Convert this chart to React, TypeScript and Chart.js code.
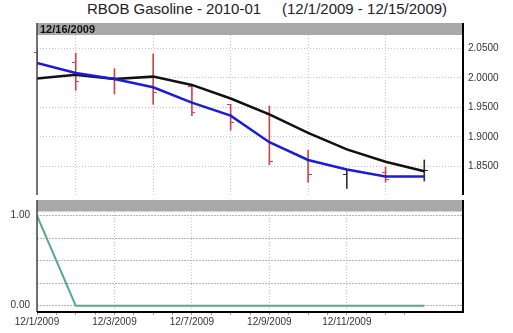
import React, { useEffect, useRef } from 'react';
import { Chart, registerables } from 'chart.js';
Chart.register(...registerables);

const chartTitle = 'RBOB Gasoline - 2010-01     (12/1/2009 - 12/15/2009)';
const headerDate = '12/16/2009';
const days = ['12/1/2009', '12/2/2009', '12/3/2009', '12/4/2009', '12/7/2009', '12/8/2009', '12/9/2009', '12/10/2009', '12/11/2009', '12/14/2009', '12/15/2009'];
const labeledDays = ['12/1/2009', '12/3/2009', '12/7/2009', '12/9/2009', '12/11/2009'];
const blueValues = [2.025, 2.008, 1.998, 1.984, 1.958, 1.936, 1.891, 1.861, 1.845, 1.833, 1.833];
const blackValues = [1.999, 2.005, 1.998, 2.002, 1.988, 1.965, 1.938, 1.907, 1.879, 1.858, 1.842];
const openValues = [2.043, 2.0265, 2.0, 2.002, 1.986, 1.9547, 1.938, 1.862, 1.836, 1.84, 1.833];
const highValues = [2.046, 2.0418, 2.0155, 2.0401, 1.988, 1.9552, 1.9525, 1.8774, 1.8441, 1.8495, 1.861];
const lowValues = [2.018, 1.9788, 1.9728, 1.9552, 1.9361, 1.9115, 1.8528, 1.8237, 1.8129, 1.8237, 1.8254];
const closeValues = [2.024, 1.9936, 1.997, 1.9756, 1.9407, 1.9243, 1.8582, 1.836, 1.8425, 1.8285, 1.843];
const lowerValues = [1, 0, 0, 0, 0, 0, 0, 0, 0, 0, 0];
const upperTickValues = [1.85, 1.9, 1.95, 2.0, 2.05];
const lowerTickValues = [0, 0.25, 0.5, 0.75, 1];
const lowerTickLabels = ['0.00', '', '', '', '1.00'];

const FONT = "'Liberation Sans', Arial, sans-serif";
const RED = '#c8474b';
const DARK = '#333333';
const GRAY_BAR = '#a8a8aa';

function makeTick(color: string, side: 'left' | 'right') {
  const c = document.createElement('canvas');
  c.width = 7;
  c.height = 1;
  const g = c.getContext('2d')!;
  g.fillStyle = color;
  g.fillRect(side === 'left' ? 0 : 4, 0, 3, 1);
  return c;
}

export default function App() {
  const topRef = useRef<HTMLCanvasElement>(null);
  const botRef = useRef<HTMLCanvasElement>(null);

  useEffect(() => {
    document.body.style.margin = '0';
    Chart.defaults.font.family = FONT;
    const n = days.length;
    const isUp = days.map((_, i) => closeValues[i] >= openValues[i]);
    const barColors = isUp.map((u) => (u ? DARK : RED));
    const openImgs = { red: makeTick(RED, 'left'), dark: makeTick(DARK, 'left') };
    const closeImgs = { red: makeTick(RED, 'right'), dark: makeTick(DARK, 'right') };
    const labeledIdx = labeledDays.map((d) => days.indexOf(d));

    const frameTop = {
      id: 'frameTop',
      afterDatasetsDraw(chart: any) {
        const { ctx, chartArea: a } = chart;
        ctx.save();
        ctx.fillStyle = GRAY_BAR;
        ctx.fillRect(a.left, a.top, a.right - a.left, 12);
        ctx.fillStyle = '#111';
        ctx.font = `bold 11px ${FONT}`;
        ctx.textBaseline = 'middle';
        ctx.textAlign = 'left';
        ctx.fillText(headerDate, a.left + 3, a.top + 6.5);
        ctx.strokeStyle = '#444';
        ctx.lineWidth = 1.5;
        ctx.beginPath();
        ctx.moveTo(a.left, a.top);
        ctx.lineTo(a.left, a.bottom);
        ctx.stroke();
        ctx.strokeStyle = '#000';
        ctx.lineWidth = 2;
        ctx.beginPath();
        ctx.moveTo(a.right, a.top);
        ctx.lineTo(a.right, a.bottom);
        ctx.stroke();
        ctx.restore();
      },
    };

    const frameBot = {
      id: 'frameBot',
      afterDatasetsDraw(chart: any) {
        const { ctx, chartArea: a } = chart;
        ctx.save();
        ctx.fillStyle = GRAY_BAR;
        ctx.fillRect(a.left, a.top, a.right - a.left, 11.5);
        ctx.strokeStyle = '#444';
        ctx.lineWidth = 1.5;
        ctx.beginPath();
        ctx.moveTo(a.left, a.top);
        ctx.lineTo(a.left, a.bottom);
        ctx.stroke();
        ctx.strokeStyle = '#000';
        ctx.lineWidth = 2;
        ctx.beginPath();
        ctx.moveTo(a.right, a.top);
        ctx.lineTo(a.right, a.bottom);
        ctx.moveTo(a.left, a.bottom);
        ctx.lineTo(a.right + 1, a.bottom);
        ctx.stroke();
        ctx.restore();
      },
    };

    const noPad = (s: any) => {
      s.paddingTop = 0;
      s.paddingBottom = 0;
    };

    const top = new Chart(topRef.current!, {
      type: 'line',
      data: {
        datasets: [
          {
            label: 'blue',
            data: blueValues.map((v, i) => ({ x: i, y: v })),
            borderColor: '#1c1cd4',
            borderWidth: 2.5,
            pointRadius: 0,
          },
          {
            label: 'black',
            data: blackValues.map((v, i) => ({ x: i, y: v })),
            borderColor: '#111111',
            borderWidth: 2.5,
            pointRadius: 0,
          },
          {
            type: 'bar',
            label: 'hl',
            data: days.map((_, i) => ({ x: i, y: [lowValues[i], highValues[i]] })),
            backgroundColor: barColors,
            barThickness: 1,
            borderWidth: 0,
          } as any,
          {
            label: 'open',
            data: openValues.map((v, i) => ({ x: i, y: v })),
            showLine: false,
            pointRadius: 3,
            pointStyle: isUp.map((u) => (u ? openImgs.dark : openImgs.red)) as any,
            clip: false as any,
          },
          {
            label: 'close',
            data: closeValues.map((v, i) => ({ x: i, y: v })),
            showLine: false,
            pointRadius: 3,
            pointStyle: isUp.map((u) => (u ? closeImgs.dark : closeImgs.red)) as any,
            clip: false as any,
          },
        ],
      },
      options: {
        responsive: false,
        animation: false,
        devicePixelRatio: 1,
        layout: { padding: { left: 37, top: 23, right: 0, bottom: 0 } },
        plugins: { legend: { display: false }, tooltip: { enabled: false }, title: { display: false } },
        scales: {
          x: {
            type: 'linear',
            min: 0,
            max: n,
            offset: false,
            afterBuildTicks: (s: any) => {
              s.ticks = labeledIdx.map((v) => ({ value: v }));
            },
            ticks: { display: false },
            grid: { color: '#c4c4c4', drawTicks: false },
            border: { display: false, dash: [1, 2] },
            afterFit: (s: any) => {
              s.height = 0;
              s.paddingLeft = 0;
              s.paddingRight = 0;
            },
          },
          y: {
            type: 'linear',
            position: 'right',
            min: 1.8018,
            max: 2.0927,
            afterBuildTicks: (s: any) => {
              s.ticks = upperTickValues.map((v) => ({ value: v }));
            },
            ticks: {
              callback: (v: any) => Number(v).toFixed(4),
              font: { size: 10, family: FONT },
              color: '#333',
              padding: 5,
            },
            grid: { color: '#c4c4c4', drawTicks: false },
            border: { display: false, dash: [1, 2] },
            afterFit: (s: any) => {
              s.width = 50;
              noPad(s);
            },
          },
        },
      } as any,
      plugins: [frameTop],
    });

    const bot = new Chart(botRef.current!, {
      type: 'line',
      data: {
        datasets: [
          {
            label: 'lower',
            data: lowerValues.map((v, i) => ({ x: i, y: v })),
            borderColor: '#5aa88a',
            borderWidth: 2,
            pointRadius: 0,
          },
        ],
      },
      options: {
        responsive: false,
        animation: false,
        devicePixelRatio: 1,
        layout: { padding: { left: 0, top: 0, right: 50, bottom: 0 } },
        plugins: { legend: { display: false }, tooltip: { enabled: false } },
        scales: {
          x: {
            type: 'linear',
            min: 0,
            max: n,
            offset: false,
            afterBuildTicks: (s: any) => {
              const t: any[] = [];
              for (let k = 0; k <= 2 * n; k++) t.push({ value: k / 2 });
              s.ticks = t;
            },
            ticks: {
              autoSkip: false,
              maxRotation: 0,
              padding: 1,
              font: { size: 10, family: FONT },
              color: '#333',
              callback: (v: any) => {
                const idx = labeledIdx.indexOf(Number(v));
                return idx >= 0 ? labeledDays[idx] : '';
              },
            },
            grid: {
              color: (c: any) => (c.tick && labeledIdx.indexOf(c.tick.value) >= 0 ? '#c4c4c4' : 'rgba(0,0,0,0)'),
              tickColor: (c: any) => (c.tick && c.tick.value <= n - 1.5 ? '#999' : 'rgba(0,0,0,0)'),
              tickLength: 3,
              drawTicks: true,
            },
            border: { display: false, dash: [1, 2] },
            afterFit: (s: any) => {
              s.height = 21;
            },
          },
          y: {
            type: 'linear',
            position: 'left',
            min: -0.07,
            max: 1.1744,
            afterBuildTicks: (s: any) => {
              s.ticks = lowerTickValues.map((v) => ({ value: v }));
            },
            ticks: {
              font: { size: 10, family: FONT },
              color: '#333',
              padding: 7,
              callback: (v: any) => {
                const idx = lowerTickValues.indexOf(Number(v));
                return idx >= 0 ? lowerTickLabels[idx] : '';
              },
            },
            grid: { color: '#b4b4b4', drawTicks: false },
            border: { display: false, dash: [2, 1] },
            afterFit: (s: any) => {
              s.width = 37;
              noPad(s);
            },
          },
        },
      } as any,
      plugins: [frameBot],
    });

    return () => {
      top.destroy();
      bot.destroy();
    };
  }, []);

  return (
    <div style={{ position: 'fixed', left: 0, top: 0, width: 513, height: 333, background: '#fff', overflow: 'hidden' }}>
      <div
        style={{
          position: 'absolute',
          top: 0,
          left: 267,
          transform: 'translateX(-50%)',
          whiteSpace: 'pre',
          fontFamily: FONT,
          fontSize: 15,
          lineHeight: '18px',
          color: '#222',
        }}
      >
        {chartTitle}
      </div>
      <canvas ref={topRef} width={513} height={200} style={{ position: 'absolute', left: 0, top: 0, display: 'block' }} />
      <canvas ref={botRef} width={513} height={133} style={{ position: 'absolute', left: 0, top: 200, display: 'block' }} />
    </div>
  );
}
